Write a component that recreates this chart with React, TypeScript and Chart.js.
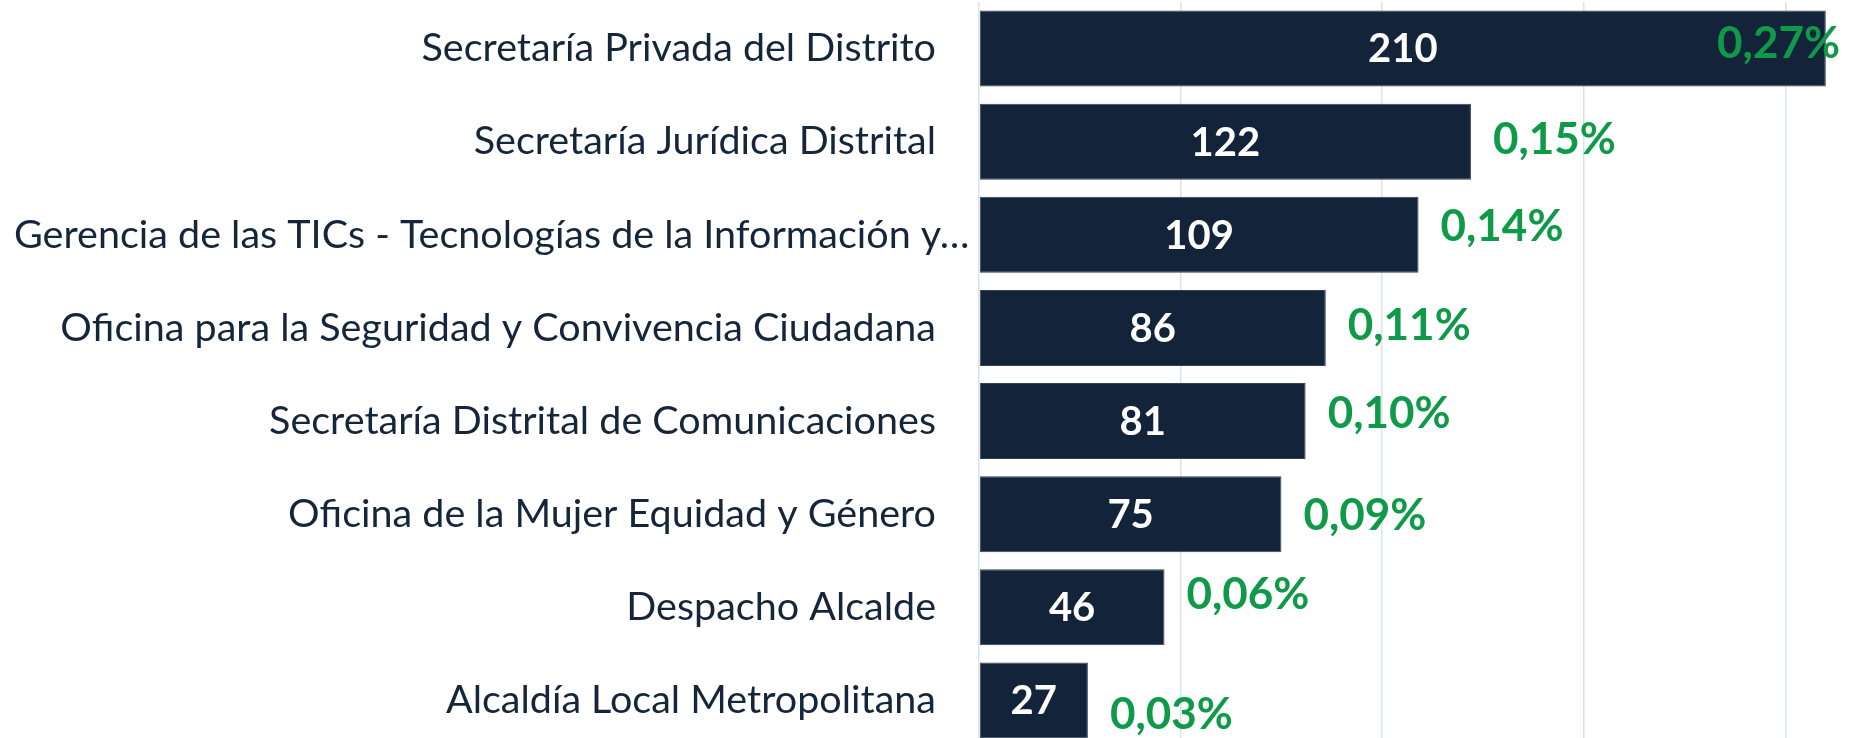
import React, { useEffect, useRef } from "react";
import { Chart, registerables } from "chart.js";

Chart.register(...registerables);

// ---- data ----
const categories = [
  "Secretaría Privada del Distrito",
  "Secretaría Jurídica Distrital",
  "Gerencia de las TICs - Tecnologías de la Información y…",
  "Oficina para la Seguridad y Convivencia Ciudadana",
  "Secretaría Distrital de Comunicaciones",
  "Oficina de la Mujer Equidad y Género",
  "Despacho Alcalde",
  "Alcaldía Local Metropolitana",
];
const counts = [210, 122, 109, 86, 81, 75, 46, 27];
const shares = [0.27, 0.15, 0.14, 0.11, 0.1, 0.09, 0.06, 0.03];
const xStep = 50;
const xMax = 216;

// ---- style ----
const BAR = "#13233A";
const BAR_EDGE = "#33435A";
const GREEN = "#0E9A48";
const TEXT = "#15263B";
const GRID = "#DDE3EA";
const FONT = 'Lato, "Open Sans", sans-serif';
const LABEL_SIZE = 39.5;
const LABEL_GAP = 43;
const LABEL_MIN_LEFT = 14;
const PCT_DX = 22;
const PCT_DY = [-5, -2, -8, -2, -7, 2, -13, 14];

const labelsPlugin = {
  id: "barLabels",
  afterDatasetsDraw(chart: any) {
    const ctx = chart.ctx;
    const meta = chart.getDatasetMeta(0);
    const yScale = chart.scales.y;
    ctx.save();

    // category labels
    ctx.font = `${LABEL_SIZE}px ${FONT}`;
    ctx.fillStyle = TEXT;
    ctx.textBaseline = "middle";
    ctx.textAlign = "left";
    const right = chart.chartArea.left - LABEL_GAP;
    categories.forEach((lab, i) => {
      const w = ctx.measureText(lab).width;
      let lx = right - w;
      if (lx < LABEL_MIN_LEFT) lx = LABEL_MIN_LEFT;
      ctx.fillText(lab, lx, yScale.getPixelForTick(i));
    });

    meta.data.forEach((bar: any, i: number) => {
      const { x, y, base } = bar.getProps(["x", "y", "base"], true);
      ctx.font = `bold 40px ${FONT}`;
      ctx.fillStyle = "#FFFFFF";
      ctx.textAlign = "center";
      ctx.textBaseline = "middle";
      ctx.fillText(String(counts[i]), (x + base) / 2, y + 1);

      const txt = shares[i].toFixed(2).replace(".", ",") + "%";
      ctx.font = `bold 44px ${FONT}`;
      const w = ctx.measureText(txt).width;
      let px = x + PCT_DX;
      if (px + w > chart.width - 10) px = chart.width - 10 - w;
      ctx.textAlign = "left";
      ctx.fillStyle = GREEN;
      ctx.fillText(txt, px, y + PCT_DY[i]);
    });
    ctx.restore();
  },
};

export default function App() {
  const ref = useRef<HTMLCanvasElement | null>(null);

  useEffect(() => {
    if (!ref.current) return;
    const chart = new Chart(ref.current, {
      type: "bar",
      data: {
        labels: categories,
        datasets: [
          {
            data: counts,
            backgroundColor: BAR,
            borderColor: BAR_EDGE,
            borderWidth: 1,
            borderSkipped: false,
            barPercentage: 0.817,
            categoryPercentage: 1,
          },
        ],
      },
      options: {
        indexAxis: "y",
        responsive: false,
        animation: false,
        layout: { padding: { top: 2, left: 0, right: 0, bottom: 0 } },
        plugins: {
          legend: { display: false },
          tooltip: { enabled: false },
        },
        scales: {
          x: {
            min: 0,
            max: xMax,
            ticks: { display: false, stepSize: xStep, includeBounds: false },
            grid: { color: GRID, lineWidth: 1.5, drawTicks: false },
            border: { display: false },
            afterFit: (s: any) => {
              s.height = 0;
              s.paddingLeft = 0;
              s.paddingRight = 0;
            },
          },
          y: {
            ticks: { display: false, autoSkip: false },
            grid: { display: false, drawTicks: false },
            border: { display: false },
            afterFit: (s: any) => {
              s.width = 979;
              s.paddingTop = 0;
              s.paddingBottom = 0;
            },
          },
        },
      },
      plugins: [labelsPlugin],
    });
    return () => chart.destroy();
  }, []);

  return (
    <div
      style={{
        position: "fixed",
        left: 0,
        top: 0,
        width: 1850,
        height: 738,
        overflow: "hidden",
        background: "#FFFFFF",
      }}
    >
      <canvas ref={ref} width={1850} height={747} style={{ display: "block" }} />
    </div>
  );
}
